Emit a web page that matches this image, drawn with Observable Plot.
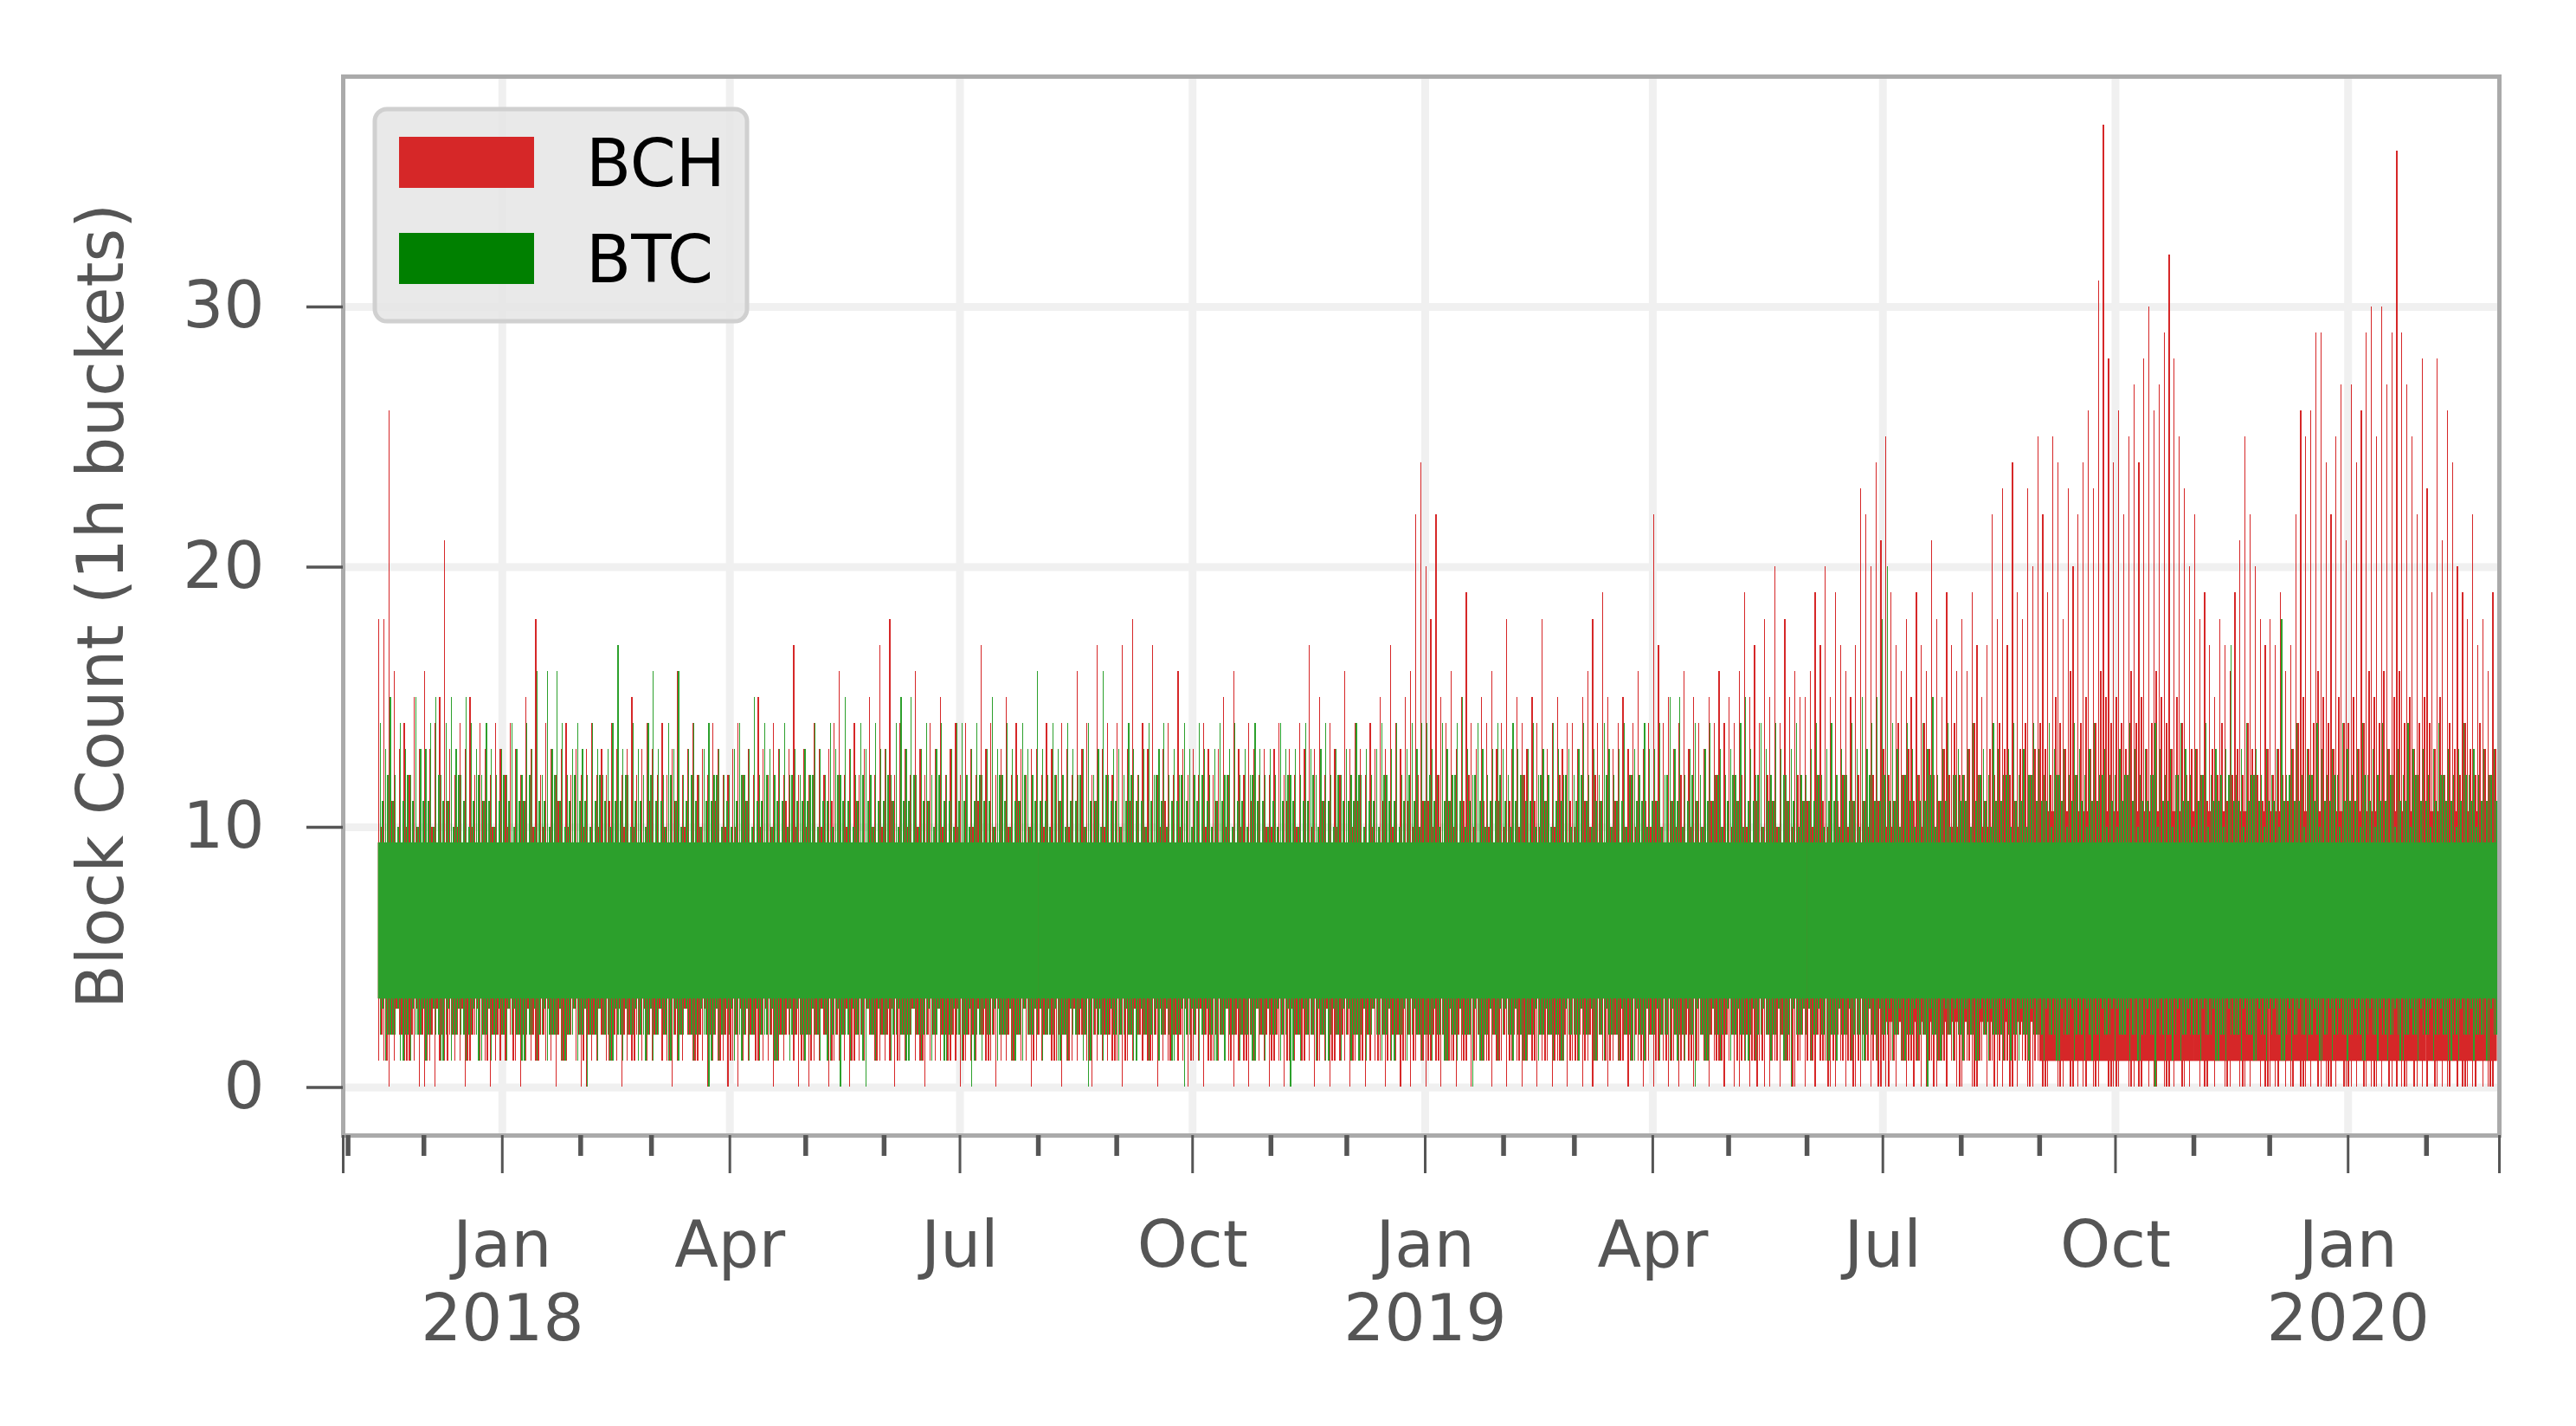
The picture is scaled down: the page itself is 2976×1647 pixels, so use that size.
<!DOCTYPE html>
<html>
<head>
<meta charset="utf-8">
<script src="https://cdn.jsdelivr.net/npm/d3@7"></script>
<script src="https://cdn.jsdelivr.net/npm/@observablehq/plot@0.6"></script>
<style>
  html, body { margin: 0; padding: 0; background: #fff; }
  #chart { width: 2976px; height: 1647px; }
</style>
</head>
<body>
<div id="chart"></div>
<script>
// ---------- series meta ----------
const seriesNames = ["BCH", "BTC"];
const lineColors = ["#d62728", "#2ca02c"];
const legendColors = ["#d62728", "#008000"];
const yLabel = "Block Count (1h buckets)";

// 2-day buckets of the hourly series, starting at this date
const firstBucket = "2017-11-13";
const bucketDays = 2;

// ---------- BCH: highest / lowest hourly count in each 2-day bucket ----------
const bchMax = [
  18, 18, 26, 16, 13, 14, 12, 15, 13,
  16, 13, 14, 15, 21, 13, 12, 14, 13, 15, 12, 14, 13, 12, 14,
  13, 12, 14, 13, 12, 15, 13, 18, 12, 14, 13, 12, 13, 14, 12, 13,
  12, 13, 14, 12, 13, 12, 14, 13, 12, 13, 15, 12, 13, 14,
  13, 12, 14, 12, 13, 16, 12, 13, 14, 12, 13, 12, 14, 13, 12,
  12, 13, 14, 12, 13, 12, 15, 13, 12, 14, 13, 12, 13, 17, 12,
  13, 12, 14, 13, 12, 13, 14, 16, 12, 13, 14, 12, 13, 15, 12, 17,
  13, 18, 12, 14, 13, 12, 16, 13, 12, 14, 13, 15, 12, 13, 14,
  12, 14, 13, 12, 17, 13, 14, 12, 13, 15, 12, 14, 13, 12, 13,
  13, 12, 14, 13, 12, 14, 13, 12, 16, 13, 14, 12, 17, 13, 14, 12,
  14, 17, 13, 18, 12, 14, 13, 17, 12, 13, 14, 12, 16, 13, 12,
  13, 12, 14, 13, 12, 13, 15, 12, 16, 13, 12, 14, 13, 12, 13,
  12, 13, 14, 12, 13, 12, 14, 13, 17, 13, 15, 12, 14, 13, 12,
  16, 13, 14, 13, 12, 14, 13, 15, 13, 17, 14, 13, 15, 16, 22, 24,
  20, 18, 22, 15, 14, 16, 13, 15, 19, 14, 13, 15, 14, 16, 13,
  14, 18, 13, 15, 14, 13, 15, 14, 18, 13, 14, 15, 13, 14,
  14, 13, 15, 16, 18, 14, 19, 15, 13, 14, 15, 13, 14, 16, 13, 14,
  22, 17, 14, 15, 13, 14, 16, 13, 15, 14, 13, 15, 14, 16, 14,
  15, 14, 16, 19, 15, 17, 14, 18, 15, 20, 14, 18, 15, 16, 15,
  15, 16, 19, 17, 20, 15, 19, 17, 16, 15, 17, 23, 22, 20, 24,
  21, 25, 19, 17, 16, 18, 15, 19, 17, 16, 21, 18, 15, 19, 17, 16,
  18, 16, 19, 17, 15, 17, 22, 18, 23, 17, 24, 19, 18, 23, 20,
  25, 22, 19, 25, 24, 18, 23, 20, 22, 24, 26, 23, 31, 37, 28,
  24, 26, 22, 25, 27, 24, 28, 30, 26, 27, 29, 32, 28, 25, 23, 20,
  22, 18, 19, 17, 15, 18, 17, 16, 19, 21, 25, 22, 20, 18, 17,
  18, 17, 19, 16, 17, 22, 26, 25, 26, 29, 29, 24, 22, 25, 27,
  21, 27, 24, 26, 29, 30, 25, 30, 27, 29, 36, 29, 27, 25, 22, 28,
  23, 19, 28, 21, 26, 24, 20, 19, 18, 22, 17, 18, 16, 19
];
const bchMin = [
  1, 1, 0, 1, 2, 1, 1, 1, 0,
  0, 1, 0, 1, 1, 2, 1, 1, 0, 1, 2, 1, 1, 0, 1,
  1, 1, 2, 1, 0, 1, 1, 1, 2, 1, 1, 0, 1, 1, 2, 1,
  0, 0, 1, 1, 2, 1, 1, 1, 0, 1, 1, 2, 1, 1,
  1, 2, 1, 1, 0, 1, 1, 2, 1, 1, 1, 0, 1, 1, 1,
  0, 1, 0, 1, 1, 2, 1, 1, 1, 0, 1, 1, 2, 1, 0,
  1, 0, 1, 1, 2, 0, 1, 1, 1, 0, 1, 1, 1, 2, 1, 1,
  1, 1, 0, 1, 1, 2, 1, 1, 0, 1, 1, 1, 2, 1, 1,
  0, 1, 1, 1, 2, 1, 1, 0, 1, 1, 1, 2, 1, 1, 0,
  1, 1, 2, 1, 1, 0, 1, 1, 1, 2, 1, 0, 1, 1, 1, 1,
  1, 0, 1, 1, 2, 1, 1, 1, 0, 1, 1, 2, 1, 1, 0,
  1, 1, 0, 1, 1, 1, 2, 1, 0, 1, 1, 0, 1, 1, 1,
  0, 1, 1, 0, 1, 1, 2, 1, 1, 0, 1, 1, 0, 1, 1,
  1, 0, 1, 1, 0, 1, 1, 1, 0, 1, 1, 0, 1, 0, 1, 1,
  0, 1, 1, 0, 1, 1, 0, 1, 1, 0, 1, 1, 1, 0, 1,
  1, 0, 1, 1, 0, 1, 1, 0, 1, 1, 0, 1, 1, 0,
  1, 1, 0, 1, 0, 1, 1, 0, 1, 1, 1, 0, 1, 1, 0, 1,
  0, 1, 1, 0, 1, 0, 1, 1, 0, 1, 1, 0, 1, 1, 0,
  1, 0, 0, 1, 0, 1, 1, 0, 0, 1, 0, 1, 1, 0, 1,
  0, 1, 0, 1, 1, 0, 0, 1, 0, 1, 0, 0, 1, 0, 1,
  0, 0, 1, 0, 1, 0, 1, 1, 0, 0, 1, 0, 1, 0, 1, 0,
  0, 1, 0, 0, 1, 0, 1, 0, 0, 1, 0, 0, 1, 0, 0,
  1, 0, 0, 1, 0, 0, 1, 0, 0, 0, 1, 0, 0, 1, 0,
  0, 0, 1, 0, 0, 0, 1, 0, 0, 1, 0, 0, 0, 1, 0, 0,
  1, 0, 0, 1, 0, 1, 0, 0, 1, 0, 0, 0, 1, 0, 0,
  0, 0, 1, 0, 0, 1, 0, 0, 0, 1, 0, 0, 0, 0, 1,
  0, 0, 0, 1, 0, 0, 0, 0, 1, 0, 0, 0, 0, 1, 0, 0,
  0, 1, 0, 0, 0, 1, 0, 0, 0, 0, 1, 0, 0, 0
];
// typical upper / lower reach of BCH in each bucket (where most hours end)
const bchMidHi = [
  10, 9, 11, 8, 9, 10, 9, 10, 8,
  9, 10, 8, 9, 11, 9, 10, 8, 9, 10, 9, 11, 8, 10, 9,
  8, 10, 9, 9, 11, 8, 10, 9, 10, 9, 8, 11, 9, 10, 8, 9,
  10, 9, 8, 10, 9, 11, 9, 8, 10, 9, 10, 8, 9, 11,
  9, 8, 10, 9, 11, 9, 10, 8, 9, 10, 9, 8, 11, 9, 10,
  8, 10, 9, 11, 9, 8, 10, 9, 10, 9, 8, 11, 9, 10, 9,
  10, 9, 8, 10, 9, 11, 8, 9, 10, 9, 11, 8, 9, 10, 9, 10,
  9, 11, 8, 9, 10, 9, 10, 8, 11, 9, 9, 10, 8, 9, 10,
  8, 9, 10, 11, 9, 8, 10, 9, 9, 10, 8, 11, 9, 10, 9,
  9, 10, 8, 9, 11, 9, 10, 8, 9, 10, 9, 11, 8, 10, 9, 9,
  10, 9, 11, 8, 9, 10, 9, 8, 10, 11, 9, 9, 10, 8, 9,
  9, 8, 10, 9, 11, 9, 10, 8, 9, 10, 9, 11, 8, 9, 10,
  10, 9, 8, 11, 9, 10, 9, 8, 10, 9, 11, 9, 8, 10, 9,
  9, 10, 11, 9, 8, 10, 9, 11, 9, 10, 8, 9, 11, 10, 12, 11,
  11, 10, 12, 9, 11, 10, 9, 11, 12, 10, 9, 11, 10, 9, 11,
  10, 11, 9, 10, 12, 9, 11, 10, 11, 9, 10, 12, 9, 11,
  10, 9, 11, 10, 12, 11, 9, 10, 11, 9, 10, 12, 10, 9, 11, 10,
  11, 10, 9, 11, 10, 12, 9, 10, 11, 10, 9, 11, 12, 10, 9,
  10, 11, 12, 10, 9, 11, 10, 12, 11, 10, 9, 11, 10, 12, 11,
  11, 10, 12, 11, 10, 9, 11, 12, 10, 11, 12, 11, 10, 12, 11,
  13, 12, 11, 14, 12, 13, 11, 12, 14, 13, 12, 11, 13, 12, 14, 12,
  12, 13, 14, 12, 11, 13, 12, 14, 13, 12, 11, 13, 14, 12, 13,
  14, 13, 12, 15, 14, 13, 16, 12, 14, 15, 13, 14, 16, 15, 14,
  15, 14, 13, 16, 14, 15, 13, 14, 16, 15, 14, 13, 15, 14, 12, 13,
  13, 12, 11, 13, 12, 14, 11, 12, 13, 12, 14, 13, 12, 11, 13,
  12, 13, 12, 11, 13, 14, 15, 13, 14, 16, 15, 14, 13, 15, 14,
  14, 15, 13, 14, 16, 15, 14, 16, 13, 15, 16, 14, 15, 13, 14, 15,
  14, 13, 15, 12, 14, 13, 12, 14, 13, 12, 14, 13, 12, 13
];
const bchMidLo = [
  2, 1, 2, 3, 2, 1, 2, 3, 2,
  1, 2, 3, 2, 1, 2, 2, 3, 1, 2, 3, 2, 1, 2, 2,
  2, 3, 1, 2, 2, 3, 2, 1, 2, 3, 2, 2, 1, 2, 3, 2,
  1, 2, 2, 3, 2, 1, 2, 3, 2, 2, 1, 2, 3, 2,
  2, 3, 2, 1, 2, 2, 3, 2, 1, 2, 3, 2, 2, 1, 2,
  1, 2, 3, 2, 2, 1, 2, 3, 2, 1, 2, 2, 3, 2, 1,
  2, 1, 2, 3, 2, 1, 2, 2, 3, 1, 2, 2, 3, 2, 1, 2,
  2, 3, 1, 2, 2, 3, 2, 1, 2, 2, 3, 2, 1, 2, 3,
  1, 2, 2, 3, 2, 1, 2, 3, 2, 2, 1, 2, 3, 2, 1,
  2, 2, 3, 1, 2, 2, 1, 3, 2, 2, 1, 2, 3, 2, 2, 1,
  2, 1, 2, 3, 2, 2, 1, 2, 3, 2, 1, 2, 2, 3, 1,
  2, 3, 2, 1, 2, 2, 3, 1, 2, 2, 1, 2, 3, 2, 2,
  1, 2, 2, 1, 3, 2, 1, 2, 2, 1, 2, 3, 1, 2, 2,
  2, 1, 2, 1, 2, 3, 1, 2, 1, 2, 2, 1, 2, 1, 2, 1,
  1, 2, 1, 2, 1, 1, 2, 1, 2, 1, 2, 1, 1, 2, 1,
  2, 1, 2, 1, 1, 2, 1, 2, 1, 2, 1, 1, 2, 1,
  1, 2, 1, 2, 1, 2, 1, 1, 2, 1, 2, 1, 2, 1, 1, 2,
  1, 2, 1, 1, 2, 1, 2, 1, 1, 2, 1, 2, 1, 1, 2,
  2, 1, 1, 2, 1, 0, 1, 2, 1, 1, 2, 1, 0, 1, 2,
  1, 1, 2, 1, 0, 1, 2, 1, 1, 0, 1, 2, 1, 1, 0,
  1, 0, 1, 2, 1, 1, 0, 1, 2, 1, 0, 1, 1, 2, 1, 0,
  1, 1, 0, 1, 2, 1, 0, 1, 1, 0, 1, 2, 1, 0, 1,
  1, 0, 1, 1, 0, 1, 0, 1, 1, 0, 1, 0, 1, 1, 0,
  0, 1, 1, 0, 1, 0, 1, 1, 0, 1, 0, 1, 1, 0, 1, 1,
  1, 1, 0, 1, 2, 1, 0, 1, 1, 0, 1, 1, 2, 1, 0,
  1, 0, 1, 1, 0, 1, 0, 1, 1, 0, 1, 0, 1, 1, 0,
  0, 1, 1, 0, 1, 0, 1, 1, 0, 1, 1, 0, 1, 0, 1, 1,
  1, 0, 1, 1, 0, 1, 1, 0, 1, 0, 1, 1, 0, 1
];

// ---------- BTC: highest / lowest hourly count in each 2-day bucket ----------
const btcMax = [
  14, 13, 15, 12, 14, 13, 12, 15, 13,
  13, 14, 15, 12, 14, 15, 13, 12, 15, 14, 13, 12, 14, 13, 12,
  13, 12, 14, 13, 12, 14, 13, 16, 12, 16, 13, 16, 14, 12, 13, 14,
  13, 12, 14, 13, 12, 13, 14, 17, 13, 12, 14, 13, 12, 14,
  16, 13, 12, 14, 13, 16, 12, 13, 14, 12, 13, 14, 12, 13, 12,
  12, 13, 14, 12, 13, 15, 12, 14, 13, 12, 13, 14, 12, 13, 12,
  13, 12, 14, 13, 12, 14, 13, 12, 15, 13, 12, 14, 13, 12, 14, 13,
  13, 12, 14, 15, 13, 15, 12, 13, 14, 12, 13, 14, 12, 13, 14,
  14, 12, 13, 14, 12, 13, 15, 13, 12, 14, 13, 12, 14, 13, 12,
  16, 13, 12, 14, 13, 12, 14, 13, 12, 13, 14, 12, 13, 16, 12, 13,
  13, 12, 14, 13, 12, 13, 14, 12, 13, 14, 12, 13, 12, 14, 13,
  12, 14, 13, 12, 13, 14, 12, 13, 14, 12, 13, 12, 14, 13, 12,
  13, 12, 14, 13, 12, 13, 12, 14, 13, 12, 13, 14, 12, 13, 12,
  13, 12, 14, 12, 13, 12, 13, 14, 12, 13, 14, 12, 13, 14, 13, 14,
  14, 13, 12, 14, 13, 12, 14, 15, 13, 12, 14, 13, 12, 13, 14,
  13, 12, 14, 13, 12, 13, 14, 12, 13, 12, 14, 13, 12, 13,
  12, 13, 14, 12, 13, 12, 14, 13, 12, 13, 14, 12, 13, 12, 14, 13,
  13, 14, 12, 15, 13, 15, 12, 13, 14, 12, 13, 14, 12, 13, 12,
  13, 12, 14, 15, 13, 12, 14, 13, 12, 14, 13, 12, 13, 14, 12,
  12, 13, 14, 12, 13, 14, 12, 13, 12, 14, 13, 15, 13, 14, 15,
  18, 20, 14, 13, 12, 14, 13, 12, 14, 13, 15, 12, 13, 14, 12, 13,
  12, 13, 14, 12, 13, 12, 14, 13, 12, 13, 14, 12, 13, 12, 14,
  13, 12, 14, 13, 12, 13, 12, 14, 13, 12, 13, 14, 12, 13, 12,
  12, 13, 12, 14, 13, 12, 13, 12, 14, 13, 12, 13, 12, 14, 13, 12,
  13, 12, 14, 12, 13, 12, 13, 17, 12, 13, 14, 12, 13, 12, 13,
  12, 13, 18, 12, 13, 14, 12, 13, 12, 14, 13, 12, 13, 12, 14,
  13, 12, 13, 14, 12, 13, 12, 14, 13, 12, 13, 12, 14, 13, 12, 13,
  12, 13, 14, 12, 13, 12, 13, 14, 12, 13, 12, 13, 12, 13
];
const btcMin = [
  2, 1, 2, 2, 1, 2, 1, 2, 2,
  1, 2, 2, 1, 2, 1, 2, 2, 1, 2, 2, 1, 2, 1, 2,
  2, 1, 2, 2, 1, 2, 2, 1, 2, 1, 2, 2, 1, 2, 2, 1,
  2, 0, 2, 1, 2, 2, 1, 2, 1, 2, 2, 1, 2, 2,
  1, 2, 2, 1, 2, 1, 2, 2, 1, 2, 2, 0, 2, 1, 2,
  2, 1, 2, 2, 1, 2, 1, 2, 2, 1, 2, 2, 1, 2, 2,
  1, 2, 2, 1, 2, 1, 2, 0, 2, 1, 2, 2, 0, 2, 1, 2,
  2, 1, 2, 2, 1, 2, 2, 1, 2, 1, 2, 2, 1, 2, 2,
  1, 2, 0, 2, 1, 2, 2, 1, 2, 2, 1, 2, 1, 2, 2,
  2, 1, 2, 2, 1, 2, 1, 2, 2, 1, 0, 2, 2, 1, 2, 2,
  1, 2, 2, 1, 2, 2, 1, 2, 1, 2, 2, 1, 2, 0, 2,
  2, 1, 2, 2, 1, 2, 1, 2, 2, 1, 2, 2, 1, 2, 1,
  2, 2, 1, 2, 0, 2, 1, 2, 2, 1, 2, 1, 2, 2, 1,
  2, 1, 2, 2, 1, 2, 2, 1, 2, 1, 2, 2, 1, 2, 2, 1,
  2, 1, 2, 2, 1, 2, 1, 2, 2, 0, 2, 1, 2, 2, 1,
  2, 2, 1, 2, 1, 2, 2, 1, 2, 2, 1, 2, 1, 2,
  2, 1, 2, 2, 1, 2, 1, 2, 2, 1, 2, 2, 1, 2, 1, 2,
  2, 1, 2, 1, 2, 2, 1, 2, 0, 2, 1, 2, 2, 1, 2,
  1, 2, 2, 1, 2, 1, 2, 2, 1, 2, 2, 1, 0, 2, 2,
  2, 1, 2, 2, 1, 2, 1, 2, 2, 1, 2, 1, 2, 2, 1,
  2, 2, 1, 2, 1, 2, 2, 1, 2, 0, 2, 1, 2, 2, 1, 2,
  1, 2, 2, 1, 2, 1, 2, 2, 1, 2, 2, 1, 2, 1, 2,
  2, 1, 2, 2, 1, 2, 2, 1, 2, 1, 2, 2, 1, 2, 2,
  1, 2, 2, 1, 2, 1, 2, 2, 0, 2, 1, 2, 2, 1, 2, 2,
  2, 1, 2, 2, 1, 2, 1, 2, 2, 1, 2, 2, 1, 2, 1,
  2, 2, 1, 2, 1, 2, 2, 1, 2, 2, 1, 2, 1, 2, 2,
  1, 2, 2, 1, 2, 2, 1, 2, 1, 2, 2, 1, 2, 2, 1, 2,
  2, 1, 2, 2, 1, 2, 1, 2, 2, 1, 2, 2, 1, 2
];
// typical upper / lower reach of BTC in each bucket
const btcMidHi = [
  11, 12, 11, 10, 11, 12, 11, 10, 11,
  11, 10, 12, 11, 11, 10, 12, 11, 10, 11, 12, 11, 11, 10, 11,
  12, 11, 10, 11, 11, 12, 10, 11, 11, 10, 12, 11, 10, 11, 12, 11,
  11, 10, 11, 12, 11, 10, 11, 11, 12, 10, 11, 11, 10, 12,
  11, 11, 10, 12, 11, 10, 11, 12, 11, 10, 11, 11, 12, 10, 11,
  10, 11, 12, 11, 10, 11, 11, 12, 10, 11, 11, 10, 12, 11, 11,
  11, 12, 10, 11, 11, 10, 12, 11, 11, 10, 11, 12, 11, 10, 11, 11,
  12, 11, 10, 11, 11, 12, 10, 11, 11, 10, 12, 11, 11, 10, 11,
  11, 10, 11, 12, 11, 11, 10, 12, 11, 10, 11, 11, 12, 10, 11,
  11, 11, 10, 12, 11, 10, 11, 11, 12, 10, 11, 11, 10, 12, 11, 11,
  10, 11, 12, 11, 11, 10, 11, 12, 11, 10, 11, 11, 12, 11, 10,
  11, 12, 11, 10, 11, 11, 12, 10, 11, 11, 10, 12, 11, 11, 10,
  11, 10, 11, 12, 11, 10, 11, 11, 12, 10, 11, 11, 10, 12, 11,
  11, 11, 12, 10, 11, 11, 10, 12, 11, 11, 10, 11, 12, 11, 10, 11,
  12, 11, 10, 11, 11, 12, 11, 10, 11, 12, 11, 10, 11, 11, 12,
  11, 10, 11, 12, 11, 11, 10, 12, 11, 10, 11, 11, 12, 10,
  11, 12, 11, 10, 11, 11, 12, 10, 11, 11, 10, 12, 11, 11, 10, 11,
  11, 10, 12, 11, 11, 10, 11, 12, 11, 10, 11, 11, 12, 10, 11,
  12, 11, 10, 11, 11, 12, 10, 11, 11, 10, 12, 11, 11, 10, 11,
  11, 11, 12, 10, 11, 11, 10, 12, 11, 11, 10, 11, 12, 11, 11,
  12, 11, 11, 10, 12, 11, 10, 11, 11, 12, 10, 11, 11, 10, 12, 11,
  11, 10, 11, 12, 11, 10, 11, 11, 12, 10, 11, 11, 10, 12, 11,
  11, 11, 10, 12, 11, 10, 11, 12, 11, 10, 11, 11, 12, 10, 11,
  10, 11, 12, 11, 10, 11, 11, 12, 10, 11, 11, 10, 12, 11, 11, 10,
  11, 12, 10, 11, 11, 10, 12, 11, 11, 10, 11, 12, 11, 10, 11,
  11, 10, 11, 12, 11, 11, 10, 12, 11, 10, 11, 11, 12, 10, 11,
  11, 11, 10, 12, 11, 10, 11, 11, 12, 10, 11, 11, 10, 12, 11, 11,
  10, 11, 12, 11, 11, 10, 11, 12, 11, 10, 11, 11, 12, 11
];
const btcMidLo = [
  3, 2, 2, 3, 1, 2, 3, 2, 3,
  2, 3, 2, 1, 3, 2, 3, 2, 2, 3, 1, 2, 3, 2, 3,
  2, 3, 3, 2, 1, 2, 3, 2, 3, 2, 2, 3, 1, 2, 3, 2,
  3, 2, 2, 3, 2, 1, 3, 2, 3, 2, 3, 2, 1, 3,
  2, 3, 2, 1, 3, 2, 3, 2, 2, 3, 2, 1, 3, 2, 3,
  3, 2, 1, 3, 2, 3, 2, 2, 3, 1, 2, 3, 2, 3, 2,
  2, 3, 2, 3, 1, 2, 3, 2, 2, 3, 2, 1, 3, 2, 3, 2,
  3, 2, 3, 2, 1, 3, 2, 2, 3, 2, 3, 1, 2, 3, 2,
  2, 3, 1, 2, 3, 2, 3, 2, 2, 3, 1, 2, 3, 2, 3,
  3, 2, 2, 3, 1, 2, 3, 2, 3, 2, 1, 3, 2, 2, 3, 2,
  2, 3, 2, 1, 3, 2, 2, 3, 2, 3, 1, 2, 3, 2, 3,
  3, 2, 3, 2, 1, 2, 3, 2, 3, 2, 2, 1, 3, 2, 3,
  2, 3, 2, 3, 1, 2, 3, 2, 2, 3, 2, 1, 3, 2, 3,
  3, 2, 1, 3, 2, 3, 2, 2, 3, 1, 2, 3, 2, 3, 2, 2,
  2, 3, 2, 1, 3, 2, 3, 2, 2, 3, 1, 2, 3, 2, 3,
  3, 2, 3, 2, 1, 2, 3, 2, 3, 2, 2, 1, 3, 2,
  2, 3, 2, 3, 1, 2, 3, 2, 2, 3, 2, 1, 3, 2, 3, 2,
  3, 2, 2, 3, 1, 2, 3, 2, 3, 2, 1, 3, 2, 2, 3,
  2, 3, 2, 1, 3, 2, 3, 2, 2, 3, 1, 2, 3, 2, 3,
  3, 2, 3, 2, 1, 2, 3, 2, 3, 2, 2, 1, 3, 2, 3,
  2, 3, 2, 3, 1, 2, 3, 2, 2, 3, 2, 1, 3, 2, 3, 2,
  3, 2, 1, 3, 2, 3, 2, 2, 3, 1, 2, 3, 2, 3, 2,
  2, 3, 2, 1, 3, 2, 3, 2, 2, 3, 1, 2, 3, 2, 3,
  3, 2, 3, 2, 1, 2, 3, 2, 3, 2, 2, 1, 3, 2, 3, 2,
  2, 3, 2, 3, 1, 2, 3, 2, 2, 3, 2, 1, 3, 2, 3,
  3, 2, 1, 3, 2, 3, 2, 2, 3, 1, 2, 3, 2, 3, 2,
  2, 3, 2, 1, 3, 2, 3, 2, 2, 3, 1, 2, 3, 2, 3, 2,
  3, 2, 3, 2, 1, 2, 3, 2, 3, 2, 2, 1, 3, 2
];

// ---------- solid band that almost every hour covers, per month ----------
const coreBounds = [
  "2017-11-13", "2017-12-01", "2018-01-01", "2018-02-01", "2018-03-01", "2018-04-01",
  "2018-05-01", "2018-06-01", "2018-07-01", "2018-08-01", "2018-09-01", "2018-10-01",
  "2018-11-01", "2018-12-01", "2019-01-01", "2019-02-01", "2019-03-01", "2019-04-01",
  "2019-05-01", "2019-06-01", "2019-07-01", "2019-08-01", "2019-09-01", "2019-10-01",
  "2019-11-01", "2019-12-01", "2020-01-01", "2020-02-01", "2020-02-29"
];
const bchCoreLo = [3.4, 3.4, 3.4, 3.4, 3.4, 3.4, 3.4, 3.4, 3.4, 3.4, 3.4, 3.4, 3.4, 3.4,
                   3.4, 3.4, 3.4, 3.4, 3.4, 3.4, 2.5, 2.5, 1.0, 1.0, 1.0, 1.0, 1.0, 1.0];
const bchCoreHi = [9.4, 9.4, 9.4, 9.4, 9.4, 9.4, 9.4, 9.4, 9.4, 9.4, 9.4, 9.4, 9.4, 9.4,
                   9.4, 9.4, 9.4, 9.4, 9.4, 9.4, 10.0, 10.0, 10.6, 10.6, 10.6, 10.6, 10.6, 10.6];
const btcCoreLo = [3.4, 3.4, 3.4, 3.4, 3.4, 3.4, 3.4, 3.4, 3.4, 3.4, 3.4, 3.4, 3.4, 3.4,
                   3.4, 3.4, 3.4, 3.4, 3.4, 3.4, 3.4, 3.4, 3.4, 3.4, 3.4, 3.4, 3.4, 3.4];
const btcCoreHi = [9.4, 9.4, 9.4, 9.4, 9.4, 9.4, 9.4, 9.4, 9.4, 9.4, 9.4, 9.4, 9.4, 9.4,
                   9.4, 9.4, 9.4, 9.4, 9.4, 9.4, 9.4, 9.4, 9.4, 9.4, 9.4, 9.4, 9.4, 9.4];

// ---------- axes ----------
const xDomain = ["2017-10-30T02:00Z", "2020-02-29T20:00Z"];
const yDomain = [-1.85, 38.85];
const yTicks = [0, 10, 20, 30];
const majorTicks = ["2018-01-01", "2018-04-01", "2018-07-01", "2018-10-01", "2019-01-01",
                    "2019-04-01", "2019-07-01", "2019-10-01", "2020-01-01"];
const majorLabels = ["Jan\n2018", "Apr", "Jul", "Oct", "Jan\n2019", "Apr", "Jul", "Oct", "Jan\n2020"];
const minorTicks = ["2017-11-01", "2017-12-01", "2018-02-01", "2018-03-01", "2018-05-01", "2018-06-01",
                    "2018-08-01", "2018-09-01", "2018-11-01", "2018-12-01", "2019-02-01", "2019-03-01",
                    "2019-05-01", "2019-06-01", "2019-08-01", "2019-09-01", "2019-11-01", "2019-12-01",
                    "2020-02-01"];

// ---------- build tables ----------
const toDate = s => new Date(s.length === 10 ? s + "T00:00Z" : s);
const t0 = toDate(firstBucket);
const at = (i, h) => d3.utcHour.offset(d3.utcDay.offset(t0, bucketDays * i), h);
const rows = (hi, lo, h) => d3.range(Math.min(hi.length, lo.length))
  .map(i => ({ t: at(i, h), lo: lo[i], hi: hi[i] }));
const bchSpikes = rows(bchMax, bchMin, 6);
const bchTypical = rows(bchMidHi, bchMidLo, 30);
const btcSpikes = rows(btcMax, btcMin, 18);
const btcTypical = rows(btcMidHi, btcMidLo, 42);
const core = d3.range(coreBounds.length - 1).map(i => ({
  x1: toDate(coreBounds[i]), x2: toDate(coreBounds[i + 1]),
  bLo: bchCoreLo[i], bHi: bchCoreHi[i], tLo: btcCoreLo[i], tHi: btcCoreHi[i]
}));
const majorDates = majorTicks.map(toDate);
const labelMap = new Map(majorDates.map((d, i) => [+d, majorLabels[i]]));
const minorDates = minorTicks.map(toDate);
const edgeDates = xDomain.map(toDate);

const FONT = "DejaVu Sans";
const GRID = "#f0f0f0";
const INK = "#555555";
const typicalStyle = { strokeWidth: 2, shapeRendering: "crispEdges" };
const spikeStyle = { strokeWidth: 1.2, shapeRendering: "crispEdges" };

const svg = Plot.plot({
  width: 2976,
  height: 1647,
  marginLeft: 396,
  marginRight: 89,
  marginTop: 88,
  marginBottom: 336,
  style: { fontFamily: FONT, fontSize: "74px", color: INK, background: "#ffffff" },
  x: { type: "utc", domain: edgeDates },
  y: { domain: yDomain },
  marks: [
    Plot.gridX(majorDates, { stroke: GRID, strokeOpacity: 1, strokeWidth: 9 }),
    Plot.gridY(yTicks, { stroke: GRID, strokeOpacity: 1, strokeWidth: 9 }),
    // BCH (drawn first, underneath)
    Plot.rect(core, { x1: "x1", x2: "x2", y1: "bLo", y2: "bHi", fill: lineColors[0] }),
    Plot.ruleX(bchTypical, { x: "t", y1: "lo", y2: "hi", stroke: lineColors[0], ...typicalStyle }),
    Plot.ruleX(bchSpikes, { x: "t", y1: "lo", y2: "hi", stroke: lineColors[0], ...spikeStyle }),
    // BTC (on top)
    Plot.rect(core, { x1: "x1", x2: "x2", y1: "tLo", y2: "tHi", fill: lineColors[1] }),
    Plot.ruleX(btcTypical, { x: "t", y1: "lo", y2: "hi", stroke: lineColors[1], ...typicalStyle }),
    Plot.ruleX(btcSpikes, { x: "t", y1: "lo", y2: "hi", stroke: lineColors[1], ...spikeStyle }),
    Plot.frame({ stroke: "#aaaaaa", strokeWidth: 5 }),
    Plot.axisY(yTicks, { tickSize: 42, tickPadding: 49, stroke: INK, strokeWidth: 3.5,
                         fontSize: 74, label: null }),
    Plot.axisX(majorDates, { tickSize: 44, tickPadding: 48, stroke: INK, strokeWidth: 3,
                             fontSize: 74, lineHeight: 1.14, tickFormat: d => labelMap.get(+d),
                             label: null }),
    Plot.axisX(minorDates, { tickSize: 24, stroke: INK, strokeWidth: 5.5, fill: "none", label: null }),
    Plot.axisX(edgeDates, { tickSize: 44, stroke: INK, strokeWidth: 3, fill: "none", label: null }),
    Plot.text([yLabel], { text: d => d, frameAnchor: "left", dx: -278, rotate: -90,
                          textAnchor: "middle", fontSize: 74, fill: INK })
  ]
});

// ---------- legend (upper left, inside the axes) ----------
const g = d3.select(svg).append("g").attr("font-family", FONT).attr("text-anchor", "start");
g.append("rect").attr("x", 433).attr("y", 126).attr("width", 430).attr("height", 245)
  .attr("rx", 14).attr("fill", "#e5e5e5").attr("fill-opacity", 0.85)
  .attr("stroke", "#d0d0d0").attr("stroke-width", 5);
seriesNames.forEach((name, i) => {
  const top = i === 0 ? 158 : 269;
  g.append("rect").attr("x", 461).attr("y", top).attr("width", 156).attr("height", 59)
    .attr("fill", legendColors[i]);
  g.append("text").attr("x", 677).attr("y", top + 57).attr("font-size", 76)
    .attr("text-anchor", "start").attr("fill", "#000").text(name);
});

document.getElementById("chart").appendChild(svg);
</script>
</body>
</html>
